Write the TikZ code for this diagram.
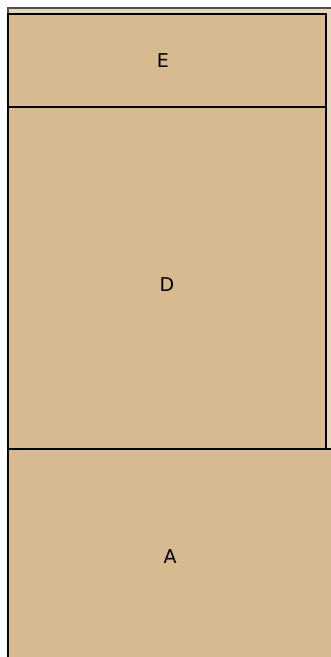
\documentclass[tikz,border=0pt]{standalone}
\usepackage{fontspec}
\setmainfont{DejaVu Sans}
\usetikzlibrary{positioning}

\definecolor{tanfill}{HTML}{D8BA90}
\definecolor{tanlight}{HTML}{E6D5B8}
\definecolor{framegray}{HTML}{505050}

\begin{document}
\begin{tikzpicture}[
  x=1pt, y=-1pt,
  part/.style={draw=black, fill=tanfill, line width=1.1pt, inner sep=0pt, outer sep=0pt,
               minimum width=318pt, font=\fontsize{19}{22}\selectfont},
  frame/.style={draw=framegray, fill=tanlight, line width=1.6pt, inner sep=0pt, outer sep=0pt,
                minimum width=340pt, minimum height=670pt},
]
\useasboundingbox (0,0) rectangle (330,657);

% outer frame, runs past the right and bottom edges
\node[frame, anchor=north west] (outer) at (8,8) {};

% E: top part
\node[part, minimum height=93pt, anchor=north west] (E) at (8,14) {\hspace*{-8pt}E};

% D: middle part
\node[part, minimum height=342pt, below=0pt of E] (D) {\rule{0pt}{26pt}D};

% A: bottom part, wider than the others
\node[part, minimum width=324pt, minimum height=215pt, anchor=north west] (A) at (D.south west) {A};

\end{tikzpicture}
\end{document}
